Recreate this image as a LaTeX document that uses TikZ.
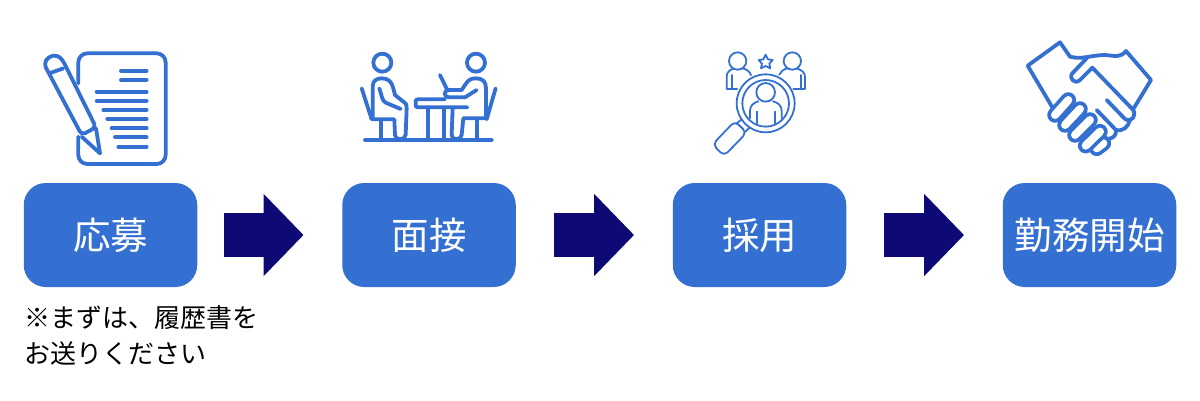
\documentclass[tikz,border=0pt]{standalone}
\usepackage{fontspec}
\usepackage{tikz}
\usetikzlibrary{arrows.meta}
\usetikzlibrary{positioning}
\newfontfamily\jpfont{Noto Sans CJK JP}
\definecolor{boxblue}{HTML}{3370D2}
\definecolor{arrownavy}{HTML}{0D0A75}
\tikzset{
  stepbox/.style={fill=boxblue,text=white,rounded corners=22pt,
    minimum width=173.5pt,minimum height=104pt,inner sep=0pt,
    font=\jpfont\fontsize{37.5}{40}\selectfont},
  flowarrow/.style={draw=arrownavy,line width=44pt,
    -{Triangle[length=40pt,width=80pt,fill=arrownavy]},shorten >=38.5pt},
  notetext/.style={align=left,inner sep=0pt,anchor=north west,
    font=\jpfont\fontsize{26}{36}\selectfont},
  icon/.style={draw=boxblue,line width=3.8pt,line cap=round,line join=round},
  thinicon/.style={draw=boxblue,line width=1.8pt,line cap=round,line join=round},
  zoomed/.style={x=0.3333pt,y=-0.3333pt}
}

\begin{document}
\begin{tikzpicture}[x=1pt,y=-1pt,
      node distance=318.5pt,
      on grid]

    \useasboundingbox (0,0) rectangle (1200,400);

    \node[stepbox]
      (Apply) at (110.5,235) {応募};
    \node[stepbox]
      (Interview) [right=318.5pt of Apply] {面接};
    \node[stepbox]
      (Hire) [right=330.5pt of Interview] {採用};
    \node[stepbox]
      (Start) [right=330pt of Hire] {勤務開始};
    \node[notetext]
      (Note) at (24,305.5) {※まずは、履歴書を\\お送りください};

    \path[flowarrow,shorten <=27pt] (Apply.east) -- (Interview.west);
    \path[flowarrow,shorten <=38pt] (Interview.east) -- (Hire.west);
    \path[flowarrow,shorten <=38pt] (Hire.east) -- (Start.west);

    % document and pen
    \begin{scope}[shift={(20,40)},zoomed]
      \draw[icon,rounded corners=9pt] (175,130) -- (175,40) -- (437,40) -- (437,372) -- (175,372) -- (175,290);
      \foreach \xa/\ya in {303/92,303/120,230/155,230/183,250/210,262/237,275/265,285/292,295/320}
        \draw[icon] (\xa,\ya) -- (380,\ya);
      \draw[icon,rounded corners=4pt] (185,285) -- (72,72) -- (85,50) -- (112,45) -- (128,60) -- (228,262) -- cycle;
      \draw[icon] (88,100) -- (130,85);
      \draw[icon] (185,290) -- (240,340) -- (228,265);
    \end{scope}

    % two people at a table
    \begin{scope}[shift={(350,40)},zoomed]
      \draw[icon] (45,300) -- (425,300);
      \draw[icon] (97,68) circle (27);
      \draw[icon] (378,68) circle (27);
      \draw[icon] (133,238) -- (68,238) -- (68,140) .. controls (68,122) and (80,115) .. (95,115) .. controls (115,115) and (125,125) .. (130,145) -- (135,165) -- (160,185) .. controls (170,192) and (170,195) .. (170,205) -- (167,285) .. controls (165,302) and (135,302) .. (135,285) -- (133,238);
      \draw[icon,rounded corners=3pt] (88,145) -- (100,185) -- (152,207);
      \draw[icon] (92,240) -- (92,298);
      \draw[icon] (35,145) -- (65,238);
      \draw[icon] (380,150) -- (345,172) -- (297,172) .. controls (280,172) and (280,150) .. (297,150) -- (335,150) -- (345,135) .. controls (355,118) and (365,115) .. (378,115) .. controls (398,115) and (408,125) .. (408,145) -- (408,235) -- (340,235) -- (335,285) .. controls (333,302) and (305,302) .. (305,285) -- (308,205);
      \draw[icon] (380,240) -- (380,298);
      \draw[icon] (437,145) -- (410,238);
      \draw[icon] (270,105) -- (292,150);
      \draw[icon,rounded corners=2pt] (285,178) -- (197,178) -- (197,202) -- (352,202);
      \draw[icon] (235,205) -- (235,298);
      \draw[icon] (283,205) -- (283,298);
    \end{scope}

    % people under a magnifier
    \begin{scope}[shift={(700,40)},zoomed]
      \draw[thinicon] (197,190) circle (87);
      \draw[thinicon] (197,190) circle (70);
      \draw[thinicon] (113,63) circle (26);
      \draw[thinicon] (277,63) circle (26);
      \draw[thinicon] (197,157) circle (28);
      \draw[thinicon] (197,44) -- (204,58) -- (218,60) -- (208,71) -- (211,85) -- (197,78) -- (183,85) -- (186,71) -- (176,60) -- (190,58) -- cycle;
      \draw[thinicon] (112,147) -- (80,147) -- (80,110) .. controls (80,98) and (88,90) .. (100,86);
      \draw[thinicon] (128,85) .. controls (140,88) and (150,95) .. (153,106);
      \draw[thinicon] (95,105) -- (95,145);
      \draw[thinicon] (280,147) -- (315,147) -- (315,110) .. controls (315,98) and (305,90) .. (292,86);
      \draw[thinicon] (262,85) .. controls (250,88) and (242,95) .. (238,104);
      \draw[thinicon] (302,105) -- (302,145);
      \draw[thinicon] (150,235) -- (150,212) .. controls (150,198) and (160,188) .. (175,184);
      \draw[thinicon] (245,235) -- (245,212) .. controls (245,198) and (235,188) .. (219,184);
      \draw[thinicon] (170,215) -- (170,250);
      \draw[thinicon] (225,215) -- (225,250);
      \draw[thinicon,rounded corners=5pt] (105,243) -- (140,278) -- (72,348) -- (38,313) -- cycle;
      \draw[thinicon] (125,238) -- (110,250);
      \draw[thinicon] (150,262) -- (136,275);
    \end{scope}

    % handshake
    \begin{scope}[shift={(1015,35)},zoomed]
      \draw[icon] (115,222) -- (38,92) -- (135,22) -- (165,65) .. controls (200,75) and (230,60) .. (270,60) .. controls (300,62) and (315,70) .. (333,48) -- (408,135) -- (355,222);
      \draw[icon] (215,70) -- (172,115) .. controls (160,130) and (180,150) .. (195,135) -- (232,98) -- (352,222) .. controls (368,240) and (350,265) .. (330,252) -- (275,195);
      \draw[icon] (345,255) .. controls (340,275) and (325,290) .. (303,285) -- (245,225);
      \draw[icon] (303,285) .. controls (305,300) and (295,312) .. (275,312) -- (262,298);
      \draw[icon] (275,312) .. controls (278,335) and (265,345) .. (245,342);
      \foreach \xa/\ya/\xb/\yb in {265/325/245/340,255/290/212/332,225/255/180/300,195/222/150/270,160/195/120/240} {
        \draw[boxblue,line width=15.5pt,line cap=round] (\xa,\ya) -- (\xb,\yb);
        \draw[white,line width=8pt,line cap=round] (\xa,\ya) -- (\xb,\yb);
      }
    \end{scope}

  \end{tikzpicture}
\end{document}
